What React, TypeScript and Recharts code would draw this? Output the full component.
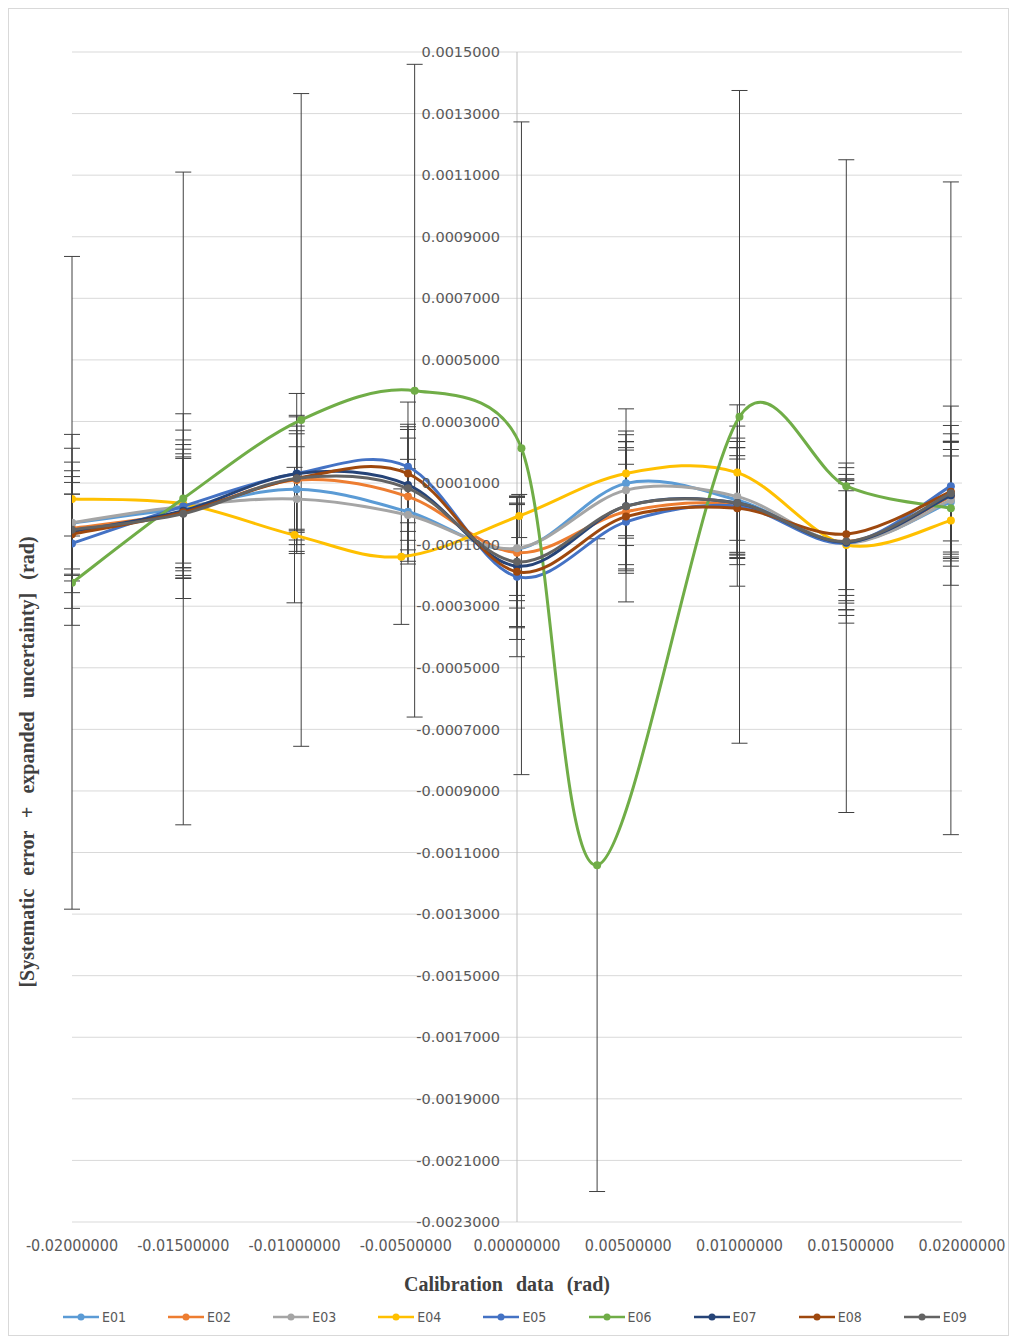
import React from 'react';
import {
  ScatterChart,
  Scatter,
  XAxis,
  YAxis,
  CartesianGrid,
  ErrorBar,
  ReferenceLine,
  ReferenceDot,
} from 'recharts';

// ---------- data ----------
const seriesNames = ['E01', 'E02', 'E03', 'E04', 'E05', 'E06', 'E07', 'E08', 'E09'];
const seriesColors = ['#5B9BD5', '#ED7D31', '#A5A5A5', '#FFC000', '#4472C4', '#70AD47', '#264478', '#9E480E', '#636363'];

const xMain = [-0.02, -0.015, -0.0099, -0.0049, 0, 0.0049, 0.0099, 0.0148, 0.0195];
const xE04 = [-0.02, -0.015, -0.0100, -0.0052, 0.0001, 0.0049, 0.0099, 0.0148, 0.0195];
const xE06 = [-0.02, -0.015, -0.0097, -0.0046, 0.0002, 0.0036, 0.0100, 0.0148, 0.0195];

const yE01 = [-0.000030, 0.000020, 0.000080, 0.000007, -0.000115, 0.000099, 0.000045, -0.000092, 0.000039];
const yE02 = [-0.000047, 0.000005, 0.000110, 0.000056, -0.000126, 0.000007, 0.000029, -0.000090, 0.000056];
const yE03 = [-0.000029, 0.000025, 0.000048, -0.000004, -0.000112, 0.000077, 0.000056, -0.000095, 0.000045];
const yE04 = [0.000048, 0.000032, -0.000069, -0.000139, -0.000007, 0.000131, 0.000134, -0.000101, -0.000022];
const yE05 = [-0.000096, 0.000025, 0.000131, 0.000153, -0.000204, -0.000026, 0.000025, -0.000095, 0.000090];
const yE06 = [-0.000224, 0.000050, 0.000305, 0.000400, 0.000213, -0.001141, 0.000315, 0.000090, 0.000018];
const yE07 = [-0.000058, 0.000010, 0.000130, 0.000094, -0.000170, 0.000025, 0.000035, -0.000092, 0.000060];
const yE08 = [-0.000066, 0.000005, 0.000115, 0.000131, -0.000188, -0.000009, 0.000018, -0.000066, 0.000072];
const yE09 = [-0.000052, 0.000000, 0.000115, 0.000083, -0.000156, 0.000025, 0.000035, -0.000090, 0.000067];

const eE01 = [0.00017, 0.00022, 0.00018, 0.00017, 0.00015, 0.00017, 0.00017, 0.00022, 0.00017];
const eE02 = [0.00026, 0.00018, 0.00016, 0.00019, 0.00018, 0.00020, 0.00016, 0.00020, 0.00018];
const eE03 = [0.00015, 0.00020, 0.00017, 0.00015, 0.00017, 0.00018, 0.00019, 0.00017, 0.00019];
const eE04 = [0.00012, 0.00024, 0.00022, 0.00022, 0.00007, 0.00021, 0.00022, 0.00021, 0.00021];
const eE05 = [0.00016, 0.00030, 0.00026, 0.00021, 0.00026, 0.00026, 0.00026, 0.00026, 0.00026];
const eE06 = [0.00106, 0.00106, 0.00106, 0.00106, 0.00106, 0.00106, 0.00106, 0.00106, 0.00106];
const eE07 = [0.00016, 0.00017, 0.00019, 0.00018, 0.00020, 0.00019, 0.00018, 0.00019, 0.00020];
const eE08 = [0.00013, 0.00019, 0.00017, 0.00016, 0.00022, 0.00017, 0.00016, 0.00018, 0.00016];
const eE09 = [0.00031, 0.00021, 0.00020, 0.00020, 0.00021, 0.00021, 0.00020, 0.00024, 0.00022];

const xTicks = [-0.02, -0.015, -0.01, -0.005, 0, 0.005, 0.01, 0.015, 0.02];
const yTicks = [
  0.0015, 0.0013, 0.0011, 0.0009, 0.0007, 0.0005, 0.0003, 0.0001,
  -0.0001, -0.0003, -0.0005, -0.0007, -0.0009, -0.0011, -0.0013, -0.0015,
  -0.0017, -0.0019, -0.0021, -0.0023,
];

const xTitle = 'Calibration data (rad)';
const yTitle = '[Systematic error + expanded uncertainty] (rad)';

const seriesX = [xMain, xMain, xMain, xE04, xMain, xE06, xMain, xMain, xMain];
const seriesY = [yE01, yE02, yE03, yE04, yE05, yE06, yE07, yE08, yE09];
const seriesE = [eE01, eE02, eE03, eE04, eE05, eE06, eE07, eE08, eE09];

const series = seriesNames.map((name, s) => ({
  name,
  color: seriesColors[s],
  data: seriesX[s].map((xv, i) => ({ x: xv, y: seriesY[s][i], e: seriesE[s][i] })),
}));

// Excel-like smoothed line: Catmull-Rom Bezier with control arm limited to half a segment
const dist = (a: number[], b: number[]) => Math.hypot(b[0] - a[0], b[1] - a[1]);
const curveSmooth = (context: any) => {
  let pts: number[][] = [];
  return {
    areaStart() {},
    areaEnd() {},
    lineStart() {
      pts = [];
    },
    point(x: number, y: number) {
      pts.push([+x, +y]);
    },
    lineEnd() {
      const n = pts.length;
      if (!n) return;
      context.moveTo(pts[0][0], pts[0][1]);
      for (let i = 0; i < n - 1; i++) {
        const p0 = pts[Math.max(i - 1, 0)];
        const p1 = pts[i];
        const p2 = pts[i + 1];
        const p3 = pts[Math.min(i + 2, n - 1)];
        const d12 = dist(p1, p2);
        const d02 = dist(p0, p2);
        const d13 = dist(p1, p3);
        const f1 = d02 / 6 < d12 / 2 ? 1 / 6 : d12 / (2 * d02);
        const f2 = d13 / 6 < d12 / 2 ? 1 / 6 : d12 / (2 * d13);
        context.bezierCurveTo(
          p1[0] + f1 * (p2[0] - p0[0]),
          p1[1] + f1 * (p2[1] - p0[1]),
          p2[0] - f2 * (p3[0] - p1[0]),
          p2[1] - f2 * (p3[1] - p1[1]),
          p2[0],
          p2[1]
        );
      }
    },
  };
};

const W = 999;
const H = 1326;
const textGray = '#595959';

export default function App() {
  return (
    <div
      style={{
        position: 'absolute',
        left: 8,
        top: 8,
        width: W,
        height: H,
        border: '1px solid #d9d9d9',
        background: '#ffffff',
      }}
    >
      <ScatterChart width={W} height={H} margin={{ top: 43, right: 46, bottom: 83, left: 63 }}>
        <CartesianGrid vertical={false} stroke="#d9d9d9" horizontalValues={yTicks} />
        <XAxis
          type="number"
          dataKey="x"
          domain={[-0.02, 0.02]}
          ticks={xTicks}
          allowDataOverflow
          axisLine={false}
          tickLine={false}
          tickMargin={12}
          height={30}
          interval={0}
          tickFormatter={(v: number) => v.toFixed(8)}
          tick={{ fill: textGray, fontSize: 16, fontFamily: 'DejaVu Sans Condensed' }}
        />
        <YAxis
          type="number"
          dataKey="y"
          domain={[-0.0023, 0.0015]}
          ticks={yTicks}
          allowDataOverflow
          hide
          width={0}
        />
        <ReferenceLine x={0} stroke="#bfbfbf" strokeWidth={1} />
        {yTicks.map((v) => (
          <ReferenceDot
            key={'yt' + v}
            x={0}
            y={v}
            r={0}
            stroke="none"
            fill="none"
            label={{
              value: v.toFixed(7),
              position: 'left',
              offset: 17,
              fill: textGray,
              fontSize: 14.5,
              fontFamily: 'DejaVu Sans',
            }}
          />
        ))}
        {series.map((s) => (
          <Scatter
            key={s.name}
            name={s.name}
            data={s.data}
            fill={s.color}
            line={{ stroke: s.color, strokeWidth: 3 }}
            lineJointType={curveSmooth as any}
            lineType="joint"
            isAnimationActive={false}
            shape={(p: any) => <circle cx={p.cx} cy={p.cy} r={4} fill={s.color} />}
          >
            <ErrorBar dataKey="e" direction="y" width={8} stroke="#404040" strokeWidth={1} />
          </Scatter>
        ))}
      </ScatterChart>

      {/* X axis title */}
      <div
        style={{
          position: 'absolute',
          left: 348,
          top: 1262,
          width: 300,
          textAlign: 'center',
          fontFamily: 'Liberation Serif',
          fontWeight: 'bold',
          fontSize: 20,
          color: '#404040',
          wordSpacing: 8,
          lineHeight: '26px',
          whiteSpace: 'nowrap',
        }}
      >
        {xTitle}
      </div>

      {/* Y axis title */}
      <div
        style={{
          position: 'absolute',
          left: 18 - 300,
          top: 753 - 13,
          width: 600,
          height: 26,
          lineHeight: '26px',
          textAlign: 'center',
          transform: 'rotate(-90deg)',
          fontFamily: 'Liberation Serif',
          fontWeight: 'bold',
          fontSize: 20,
          color: '#404040',
          wordSpacing: 8,
          whiteSpace: 'nowrap',
        }}
      >
        {yTitle}
      </div>

      {/* Legend */}
      {series.map((s, i) => (
        <div
          key={'lg' + s.name}
          style={{
            position: 'absolute',
            left: 53 + i * 105.1,
            top: 1308 - 10,
            height: 20,
            display: 'flex',
            alignItems: 'center',
            fontFamily: 'DejaVu Sans Condensed',
            fontSize: 14,
            color: textGray,
          }}
        >
          <svg width={38} height={20}>
            <line x1={1} y1={10} x2={37} y2={10} stroke={s.color} strokeWidth={2.5} />
            <circle cx={19} cy={10} r={3.5} fill={s.color} />
          </svg>
          <span style={{ marginLeft: 2 }}>{s.name}</span>
        </div>
      ))}
    </div>
  );
}
